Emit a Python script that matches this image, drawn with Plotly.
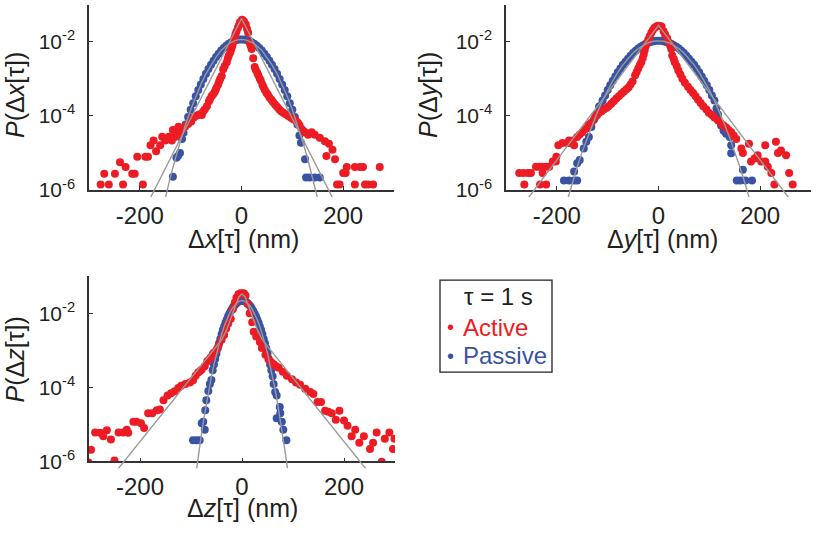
import plotly.graph_objects as go

# ---------------- data ----------------
# Panel x: active (red)
ax_x = [-277, -270, -261, -249, -239, -233, -228, -215, -210, -205, -194, -189, -184, -179, -173, -168, -160, -156,
        -150, -143, -137, -135, -130, -127, -124, -121, -117, -111, -105, -99, -94, -90, -85, -82, -78, -75, -72, -68,
        -64, -62, -59, -56, -53, -51, -49, -46, -44, -42, -39, -36, -33, -29, -27, -25, -22, -20, -18, -16, -14, -12,
        -10, -7, -5, -3, 1, 2, 5, 8.5, 11, 13, 16, 18, 20, 23, 26, 28, 31, 33, 36, 38, 41, 43, 46, 49, 52, 55, 59, 62,
        66, 70, 74, 78, 82, 87, 92, 97, 102, 107, 111, 114, 118, 121, 125, 131, 138, 144, 154, 164, 167, 172, 179, 184,
        188, 193, 200, 205, 207, 223, 223, 233, 239, 243, 249, 259, 272]
ax_p = [1.41e-6, 2.75e-6, 1.41e-6, 2.75e-6, 5.62e-6, 1.41e-6, 4.17e-6, 2.75e-6, 2.75e-6, 7.94e-6, 1.41e-6, 7.94e-6,
        7.94e-6, 1.62e-5, 2.19e-5, 1.12e-5, 1.62e-5, 2.75e-5, 2.19e-5, 2.75e-5, 2.19e-5, 4.17e-5, 2.75e-5, 3.31e-5,
        5.13e-5, 3.31e-5, 4.17e-5, 5.13e-5, 6.03e-5, 7.08e-5, 9.12e-5, 1.0e-4, 1.07e-4, 1.12e-4, 1.07e-4, 1.35e-4,
        1.51e-4, 1.82e-4, 2.51e-4, 2.82e-4, 3.39e-4, 3.80e-4, 4.37e-4, 5.01e-4, 5.89e-4, 7.08e-4, 8.51e-4, 1.0e-3,
        1.20e-3, 1.82e-3, 2.24e-3, 2.82e-3, 3.55e-3, 4.27e-3, 5.25e-3, 6.46e-3, 7.94e-3, 1.0e-2, 1.26e-2, 1.58e-2,
        1.91e-2, 2.40e-2, 2.82e-2, 3.39e-2, 3.98e-2, 3.80e-2, 3.55e-2, 2.95e-2, 2.24e-2, 1.78e-2, 9.55e-3, 7.94e-3,
        6.46e-3, 3.63e-3, 2.09e-3, 1.78e-3, 1.48e-3, 1.26e-3, 1.02e-3, 8.91e-4, 7.08e-4, 6.03e-4, 5.01e-4, 4.27e-4,
        3.72e-4, 3.16e-4, 2.75e-4, 2.40e-4, 2.04e-4, 1.78e-4, 1.51e-4, 1.35e-4, 1.23e-4, 1.12e-4, 1.0e-4, 8.91e-5,
        8.13e-5, 7.41e-5, 6.61e-5, 5.62e-5, 4.47e-5, 3.98e-5, 3.63e-5, 3.09e-5, 3.63e-5, 3.09e-5, 2.57e-5, 2.09e-5,
        8.32e-6, 1.78e-5, 1.23e-5, 6.76e-6, 1.41e-6, 1.41e-6, 2.88e-6, 2.88e-6, 4.17e-6, 4.17e-6, 1.41e-6, 4.17e-6,
        4.17e-6, 1.41e-6, 1.41e-6, 1.41e-6, 4.17e-6]

# Panel x: passive (blue)
px_x = [-135, -128, -125, -121, -117, -114, -110, -105, -100, -95, -90, -85, -80, -75, -70, -65, -60, -55, -50, -45,
        -40, -35, -30, -25, -20, -15, -10, -5, 0, 5, 10, 15, 20, 25, 30, 35, 40, 45, 50, 55, 60, 65, 70, 75, 80, 85,
        90, 95, 100, 105, 110, 114, 117, 125, 127, 134, 144, 154]
px_p = [2.3e-6, 7.4e-6, 8.3e-6, 1.0e-5, 2.4e-5, 3.5e-5, 5.9e-5, 9.4e-5, 1.48e-4, 2.2e-4, 3.4e-4, 5.0e-4, 7.1e-4,
        1.0e-3, 1.38e-3, 1.85e-3, 2.4e-3, 3.1e-3, 3.9e-3, 4.8e-3, 5.9e-3, 6.9e-3, 7.9e-3, 8.9e-3, 9.8e-3, 1.07e-2,
        1.12e-2, 1.16e-2, 1.17e-2, 1.16e-2, 1.12e-2, 1.07e-2, 9.8e-3, 8.9e-3, 7.9e-3, 6.9e-3, 5.9e-3, 4.8e-3, 3.9e-3,
        3.1e-3, 2.4e-3, 1.85e-3, 1.38e-3, 1.0e-3, 7.1e-4, 5.0e-4, 3.4e-4, 2.2e-4, 1.48e-4, 9.4e-5, 5.9e-5, 2.95e-5,
        1.9e-5, 6.76e-6, 2.19e-6, 2.19e-6, 2.19e-6, 2.19e-6]

# Panel x: fits
fa_x_x = [-195, 0, 195]
fa_x_p = [2.3e-7, 4.3e-2, 2.3e-7]
fp_x_x = [-160, -150, -140, -130, -120, -110, -100, -90, -80, -70, -60, -50, -40, -30, -20, -10, 0,
          10, 20, 30, 40, 50, 60, 70, 80, 90, 100, 110, 120, 130, 140, 150, 160]
fp_x_p = [1.6e-7, 6.2e-7, 2.2e-6, 7.2e-6, 2.1e-5, 5.9e-5, 1.48e-4, 3.4e-4, 7.1e-4, 1.38e-3, 2.4e-3, 3.9e-3, 5.9e-3,
          7.9e-3, 9.8e-3, 1.12e-2, 1.17e-2, 1.12e-2, 9.8e-3, 7.9e-3, 5.9e-3, 3.9e-3, 2.4e-3, 1.38e-3, 7.1e-4, 3.4e-4,
          1.48e-4, 5.9e-5, 2.1e-5, 7.2e-6, 2.2e-6, 6.2e-7, 1.6e-7]

# Panel y: active (red)
ay_x = [-274, -266, -264, -257, -251, -241, -235, -233, -228, -228, -221, -221, -215, -208, -202, -201, -197, -189,
        -179, -176, -173, -169, -166, -160, -155, -150, -143, -138, -132, -125, -121, -117, -112, -107, -102, -98, -93,
        -88, -83, -78, -73, -68, -63, -59, -55, -51, -46, -43, -40, -37, -34, -31, -29, -27, -25, -22, -20, -17, -14,
        -11, -8, -4, -1, 3, 6, 10, 13, 17, 21, 23, 25, 27, 30, 32, 36, 39, 43, 47, 52, 58, 63, 68, 73, 78, 83, 88, 94,
        99, 105, 110, 117, 123, 128, 133, 138, 143, 148, 153, 163, 166, 178, 182, 189, 195, 202, 210, 210, 215, 222,
        228, 231, 235, 241, 251, 257, 264]
ay_p = [2.88e-6, 2.88e-6, 1.41e-6, 2.88e-6, 2.88e-6, 4.27e-6, 4.27e-6, 1.41e-6, 4.27e-6, 2.88e-6, 4.27e-6, 1.41e-6,
        4.27e-6, 5.89e-6, 5.89e-6, 7.94e-6, 1.62e-5, 1.86e-5, 1.86e-5, 2.19e-5, 1.86e-5, 2.19e-5, 1.62e-5, 2.69e-5,
        3.16e-5, 3.63e-5, 4.47e-5, 5.75e-5, 6.61e-5, 9.12e-5, 1.05e-4, 1.23e-4, 1.35e-4, 1.51e-4, 1.66e-4, 1.82e-4,
        2.14e-4, 2.51e-4, 2.95e-4, 3.39e-4, 3.98e-4, 4.57e-4, 5.25e-4, 5.89e-4, 7.08e-4, 8.51e-4, 1.26e-3, 1.55e-3,
        1.91e-3, 2.34e-3, 2.82e-3, 3.63e-3, 4.68e-3, 6.03e-3, 7.76e-3, 9.55e-3, 1.17e-2, 1.45e-2, 1.78e-2, 2.09e-2,
        2.40e-2, 2.63e-2, 2.75e-2, 2.69e-2, 2.63e-2, 1.95e-2, 1.58e-2, 1.26e-2, 9.55e-3, 7.94e-3, 6.46e-3, 4.27e-3,
        3.47e-3, 2.82e-3, 2.19e-3, 1.70e-3, 1.32e-3, 1.02e-3, 7.94e-4, 6.17e-4, 5.01e-4, 4.17e-4, 3.39e-4, 2.75e-4,
        2.24e-4, 1.82e-4, 1.51e-4, 1.23e-4, 1.07e-4, 9.12e-5, 7.59e-5, 6.31e-5, 5.50e-5, 4.90e-5, 4.17e-5, 3.63e-5,
        2.95e-5, 2.40e-5, 1.32e-5, 1.0e-5, 1.78e-5, 5.89e-6, 7.08e-6, 8.71e-6, 5.89e-6, 1.62e-5, 5.89e-6, 4.27e-6,
        2.88e-6, 1.41e-6, 2.0e-5, 1.0e-5, 1.17e-5, 8.71e-6, 2.88e-6, 1.41e-6]

# Panel y: passive (blue)
py_x = [-186, -176, -166, -160, -166, -160, -155, -147, -142, -137, -132, -127, -122, -117, -115, -110, -105, -100,
        -95, -90, -85, -80, -75, -70, -65, -60, -55, -50, -45, -40, -35, -30, -25, -20, -15, -10, -5, 0, 5, 10, 15,
        20, 25, 30, 35, 40, 45, 50, 55, 60, 65, 70, 75, 80, 85, 90, 95, 100, 105, 110, 114, 117, 123, 128, 133, 140,
        143, 143, 166, 154, 161, 171, 184]
py_p = [1.82e-6, 1.82e-6, 1.82e-6, 1.82e-6, 3.16e-6, 5.25e-6, 6.46e-6, 1.32e-5, 2.0e-5, 2.69e-5, 5.01e-5, 7.94e-5,
        1.12e-4, 1.78e-4, 1.86e-4, 2.6e-4, 3.6e-4, 5.0e-4, 6.8e-4, 8.9e-4, 1.17e-3, 1.51e-3, 1.91e-3, 2.4e-3, 2.9e-3,
        3.5e-3, 4.2e-3, 5.0e-3, 5.8e-3, 6.6e-3, 7.4e-3, 8.1e-3, 8.9e-3, 9.5e-3, 1.0e-2, 1.04e-2, 1.07e-2, 1.07e-2,
        1.07e-2, 1.04e-2, 1.0e-2, 9.5e-3, 8.9e-3, 8.1e-3, 7.4e-3, 6.6e-3, 5.8e-3, 5.0e-3, 4.2e-3, 3.5e-3, 2.9e-3,
        2.4e-3, 1.91e-3, 1.51e-3, 1.17e-3, 8.9e-4, 6.8e-4, 5.0e-4, 3.6e-4, 2.6e-4, 1.58e-4, 1.10e-4, 5.50e-5, 3.98e-5,
        3.31e-5, 2.69e-5, 1.62e-5, 9.77e-6, 3.55e-6, 1.82e-6, 1.82e-6, 1.82e-6, 1.82e-6]

# Panel y: fits
fa_y_x = [-275, 0, 275]
fa_y_p = [2.8e-7, 2.8e-2, 2.8e-7]
fp_y_x = [-190, -180, -170, -160, -150, -140, -130, -120, -110, -100, -90, -80, -70, -60, -50, -40, -30, -20, -10, 0,
          10, 20, 30, 40, 50, 60, 70, 80, 90, 100, 110, 120, 130, 140, 150, 160, 170, 180, 190]
fp_y_p = [1.7e-7, 5.2e-7, 1.55e-6, 4.2e-6, 1.10e-5, 2.6e-5, 6.0e-5, 1.29e-4, 2.6e-4, 5.0e-4, 8.9e-4, 1.51e-3, 2.4e-3,
          3.5e-3, 5.0e-3, 6.6e-3, 8.1e-3, 9.5e-3, 1.04e-2, 1.07e-2, 1.04e-2, 9.5e-3, 8.1e-3, 6.6e-3, 5.0e-3, 3.5e-3,
          2.4e-3, 1.51e-3, 8.9e-4, 5.0e-4, 2.6e-4, 1.29e-4, 6.0e-5, 2.6e-5, 1.10e-5, 4.2e-6, 1.55e-6, 5.2e-7, 1.7e-7]

# Panel z: active (red)
az_x = [-301, -296, -288, -278, -272, -265, -257, -250, -242, -233, -226, -223, -213, -207, -198, -192, -184, -176,
        -167, -161, -154, -146, -139, -132, -125, -119, -111, -102, -96, -91, -86, -82, -79, -73, -68, -64, -61, -57,
        -55, -50, -46, -40, -35, -31, -27, -22, -18, -14, -11, -7, -3, 1, 4, 7, 11, 15, 20, 23, 28, 35, 39, 46, 52,
        57, 62, 67, 72, 80, 88, 98, 106, 114, 124, 134, 140, 148, 155, 163, 169, 176, 184, 191, 200, 207, 215, 222,
        230, 239, 251, 257, 264, 274, 280, 289, 296, 299]
az_p = [9.3e-7, 2.04e-6, 6.03e-6, 5.89e-6, 4.79e-6, 6.92e-6, 3.89e-6, 1.05e-6, 6.03e-6, 6.03e-6, 7.08e-6, 5.89e-6,
        1.17e-5, 1.17e-5, 1.07e-5, 7.94e-6, 2.0e-5, 2.0e-5, 2.40e-5, 2.51e-5, 4.47e-5, 6.03e-5, 6.92e-5, 7.76e-5,
        9.55e-5, 1.10e-4, 1.23e-4, 1.35e-4, 1.55e-4, 2.04e-4, 2.51e-4, 2.75e-4, 3.02e-4, 3.72e-4, 5.01e-4, 5.75e-4,
        6.46e-4, 7.94e-4, 8.51e-4, 1.02e-3, 1.35e-3, 1.91e-3, 2.57e-3, 3.89e-3, 5.25e-3, 7.08e-3, 1.29e-2, 1.95e-2,
        2.63e-2, 3.24e-2, 3.47e-2, 3.47e-2, 3.39e-2, 3.02e-2, 1.78e-2, 1.0e-2, 5.75e-3, 3.16e-3, 2.34e-3, 1.66e-3,
        1.15e-3, 7.59e-4, 5.62e-4, 4.79e-4, 4.17e-4, 3.72e-4, 3.39e-4, 2.63e-4, 2.04e-4, 1.66e-4, 1.35e-4, 1.17e-4,
        9.12e-5, 7.41e-5, 6.61e-5, 3.98e-5, 3.98e-5, 2.34e-5, 2.19e-5, 2.0e-5, 1.32e-5, 2.34e-5, 1.26e-5, 9.12e-6,
        4.79e-6, 7.08e-6, 3.16e-6, 4.79e-6, 2.14e-6, 3.16e-6, 6.03e-6, 9.8e-7, 4.07e-6, 6.03e-6, 2.14e-6, 4.07e-6]

# Panel z: passive (blue)
pz_x = [-96, -89, -83, -79, -76, -73, -72, -70, -66, -63, -60, -57.5, -55, -52.5, -50, -47.5, -45, -42.5, -40, -37.5,
        -35, -32.5, -30, -27.5, -25, -22.5, -20, -17.5, -15, -12.5, -10, -7.5, -5, -2.5, 0, 2.5, 5, 7.5, 10, 12.5, 15,
        17.5, 20, 22.5, 25, 27.5, 30, 32.5, 35, 37.5, 40, 42.5, 45, 47.5, 50, 52.5, 55, 57.5, 60, 62, 65, 68, 68, 74,
        75, 78, 81, 87]
pz_p = [3.72e-6, 3.72e-6, 3.72e-6, 1.07e-5, 1.17e-5, 7.08e-6, 2.40e-5, 4.47e-5, 7.94e-5, 1.23e-4, 1.58e-4, 2.9e-4,
        4.1e-4, 5.9e-4, 8.2e-4, 1.13e-3, 1.54e-3, 2.0e-3, 2.7e-3, 3.5e-3, 4.4e-3, 5.5e-3, 6.7e-3, 8.1e-3, 9.6e-3,
        1.12e-2, 1.29e-2, 1.47e-2, 1.62e-2, 1.78e-2, 1.91e-2, 2.04e-2, 2.13e-2, 2.18e-2, 2.19e-2, 2.18e-2, 2.13e-2,
        2.04e-2, 1.91e-2, 1.78e-2, 1.62e-2, 1.47e-2, 1.29e-2, 1.12e-2, 9.6e-3, 8.1e-3, 6.7e-3, 5.5e-3, 4.4e-3, 3.5e-3,
        2.7e-3, 2.0e-3, 1.54e-3, 1.13e-3, 8.2e-4, 5.9e-4, 4.1e-4, 2.9e-4, 2.0e-4, 1.23e-4, 7.41e-5, 6.03e-5, 1.45e-5,
        2.95e-5, 2.0e-5, 1.17e-5, 7.08e-6, 3.72e-6]

# Panel z: fits
fa_z_x = [-260, -40, -30, -20, -12, -6, 0, 6, 12, 20, 30, 40, 260]
fa_z_p = [3.2e-7, 1.9e-3, 3.6e-3, 8.0e-3, 1.7e-2, 2.8e-2, 3.3e-2, 2.8e-2, 1.7e-2, 8.0e-3, 3.6e-3, 1.9e-3, 3.2e-7]
fp_z_x = [-95, -90, -85, -80, -75, -70, -65, -60, -55, -50, -45, -40, -35, -30, -25, -20, -15, -10, -5, 0,
          5, 10, 15, 20, 25, 30, 35, 40, 45, 50, 55, 60, 65, 70, 75, 80, 85, 90, 95]
fp_z_p = [1.58e-7, 5.3e-7, 1.66e-6, 4.9e-6, 1.36e-5, 3.5e-5, 8.5e-5, 1.94e-4, 4.1e-4, 8.2e-4, 1.54e-3, 2.7e-3, 4.4e-3,
          6.7e-3, 9.6e-3, 1.29e-2, 1.62e-2, 1.91e-2, 2.13e-2, 2.19e-2, 2.13e-2, 1.91e-2, 1.62e-2, 1.29e-2, 9.6e-3,
          6.7e-3, 4.4e-3, 2.7e-3, 1.54e-3, 8.2e-4, 4.1e-4, 1.94e-4, 8.5e-5, 3.5e-5, 1.36e-5, 4.9e-6, 1.66e-6, 5.3e-7,
          1.58e-7]

x_tick_vals = [-200, 0, 200]
x_tick_text = ["-200", "0", "200"]
y_tick_vals = [1e-6, 1e-4, 1e-2]
y_tick_text = ["10<sup>-6</sup>", "10<sup>-4</sup>", "10<sup>-2</sup>"]

# ---------------- styling ----------------
RED = "#ED1C24"
BLUE = "#3953A4"
GRAY = "#9A9A9A"
INK = "#231F20"
FONT = "Liberation Sans"
W, H = 819, 536
MS = 8
DEC_PX = 189 / 5          # pixels per decade on the y axes
EXT_PX = 7                # fit lines run a few pixels past the x axis, as in the reference

fig = go.Figure()

panels = [
    ("x", "y", "x4", "y4", ax_x, ax_p, px_x, px_p, fa_x_x, fa_x_p, fp_x_x, fp_x_p),
    ("x2", "y2", "x5", "y5", ay_x, ay_p, py_x, py_p, fa_y_x, fa_y_p, fp_y_x, fp_y_p),
    ("x3", "y3", "x6", "y6", az_x, az_p, pz_x, pz_p, fa_z_x, fa_z_p, fp_z_x, fp_z_p),
]
for xa, ya, xf, yf, axx, axp, pxx, pxp, fax, fap, fpx, fpp in panels:
    fig.add_trace(go.Scatter(x=pxx, y=pxp, mode="markers", xaxis=xa, yaxis=ya, showlegend=False,
                             marker=dict(color=BLUE, size=MS, line=dict(width=0)), name="Passive"))
    fig.add_trace(go.Scatter(x=axx, y=axp, mode="markers", xaxis=xa, yaxis=ya, showlegend=False,
                             marker=dict(color=RED, size=MS, line=dict(width=0)), name="Active"))
for xa, ya, xf, yf, axx, axp, pxx, pxp, fax, fap, fpx, fpp in panels:
    fig.add_trace(go.Scatter(x=fpx, y=fpp, mode="lines", xaxis=xf, yaxis=yf, showlegend=False,
                             line=dict(color=GRAY, width=1.4), hoverinfo="skip", name="Passive fit"))
    fig.add_trace(go.Scatter(x=fax, y=fap, mode="lines", xaxis=xf, yaxis=yf, showlegend=False,
                             line=dict(color=GRAY, width=1.4), hoverinfo="skip", name="Active fit"))


def xax(domain, anchor):
    return dict(domain=domain, anchor=anchor, range=[-300, 300], showgrid=False, zeroline=False,
                showline=True, linecolor="#333333", linewidth=1.5, ticks="inside", ticklen=4,
                tickcolor="#333333", tickwidth=1.2, tickvals=x_tick_vals, ticktext=x_tick_text,
                tickfont=dict(family=FONT, size=24, color=INK), ticklabelstandoff=3)


def yax(domain, anchor):
    return dict(domain=domain, anchor=anchor, type="log", range=[-6, -1], showgrid=False, zeroline=False,
                showline=True, linecolor="#333333", linewidth=1.5, ticks="inside", ticklen=4,
                tickcolor="#333333", tickwidth=1.2, tickvals=y_tick_vals, ticktext=y_tick_text,
                tickfont=dict(family=FONT, size=21, color=INK), ticklabelstandoff=8)


def xhid(domain, anchor):
    return dict(domain=domain, anchor=anchor, range=[-300, 300], visible=False, fixedrange=True)


def yhid(domain, anchor):
    return dict(domain=[domain[0] - EXT_PX / H, domain[1]], anchor=anchor, type="log",
                range=[-6 - EXT_PX / DEC_PX, -1], visible=False, fixedrange=True)


xd1 = [89 / W, 394 / W]
xd2 = [506 / W, 811 / W]
xd3 = [89 / W, 395 / W]
yd_top = [1 - 194 / H, 1 - 5 / H]
yd_bot = [1 - 471 / H, 1 - 282 / H]

fig.update_layout(
    width=W, height=H, margin=dict(l=0, r=0, t=0, b=0),
    paper_bgcolor="white", plot_bgcolor="rgba(0,0,0,0)",
    font=dict(family=FONT, color=INK),
    xaxis=xax(xd1, "y"), yaxis=yax(yd_top, "x"),
    xaxis2=xax(xd2, "y2"), yaxis2=yax(yd_top, "x2"),
    xaxis3=xax(xd3, "y3"), yaxis3=yax(yd_bot, "x3"),
    xaxis4=xhid(xd1, "y4"), yaxis4=yhid(yd_top, "x4"),
    xaxis5=xhid(xd2, "y5"), yaxis5=yhid(yd_top, "x5"),
    xaxis6=xhid(xd3, "y6"), yaxis6=yhid(yd_bot, "x6"),
)

TS = 25
ann = [
    dict(text="Δ<i>x</i>[τ] (nm)", x=243 / W, y=1 - 244 / H),
    dict(text="Δ<i>y</i>[τ] (nm)", x=662 / W, y=1 - 244 / H),
    dict(text="Δ<i>z</i>[τ] (nm)", x=242 / W, y=1 - 519 / H),
    dict(text="<i>P</i>(Δ<i>x</i>[τ])", x=15 / W, y=1 - 97 / H, textangle=-90),
    dict(text="<i>P</i>(Δ<i>y</i>[τ])", x=428 / W, y=1 - 97 / H, textangle=-90),
    dict(text="<i>P</i>(Δ<i>z</i>[τ])", x=15 / W, y=1 - 367 / H, textangle=-90),
]
for a in ann:
    fig.add_annotation(xref="paper", yref="paper", xanchor="center", yanchor="middle", showarrow=False,
                       font=dict(family=FONT, size=TS, color=INK), **a)

# legend box
fig.add_shape(type="rect", xref="paper", yref="paper", x0=440 / W, x1=552 / W, y0=1 - 380 / H, y1=1 - 286 / H,
              line=dict(color=INK, width=1.3), fillcolor="white", layer="above")
fig.add_annotation(text="τ = 1 s", xref="paper", yref="paper", x=499 / W, y=1 - 303 / H, showarrow=False,
                   xanchor="center", yanchor="middle", font=dict(family=FONT, size=24, color=INK))
for label, col, yy in [("Active", RED, 334), ("Passive", BLUE, 363)]:
    fig.add_annotation(text="•", xref="paper", yref="paper", x=450 / W, y=1 - yy / H, showarrow=False,
                       xanchor="center", yanchor="middle", font=dict(family=FONT, size=20, color=col))
    fig.add_annotation(text=label, xref="paper", yref="paper", x=461 / W, y=1 - yy / H, showarrow=False,
                       xanchor="left", yanchor="middle", font=dict(family=FONT, size=24, color=col))

fig.write_html("out.html", config={"displayModeBar": False},
               post_script="document.body.style.margin='0';document.body.style.overflow='hidden';")
